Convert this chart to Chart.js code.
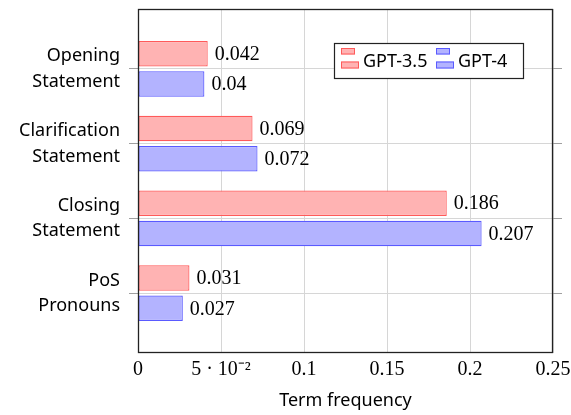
<!DOCTYPE html>
<html>
<head>
<meta charset="utf-8">
<script src="https://cdn.jsdelivr.net/npm/chart.js@4.4.1/dist/chart.umd.min.js"></script>
<style>
  html, body { margin: 0; padding: 0; background: #fff; }
  #wrap { width: 571px; height: 415px; position: relative; }
</style>
</head>
<body>
<div id="wrap"><canvas id="c" width="571" height="415"></canvas></div>
<script>
const categories = [["Opening", "Statement"], ["Clarification", "Statement"], ["Closing", "Statement"], ["PoS", "Pronouns"]];
const seriesNames = ["GPT-3.5", "GPT-4"];
const gpt35 = [0.042, 0.069, 0.186, 0.031];
const gpt4 = [0.04, 0.072, 0.207, 0.027];
const xTickValues = [0, 0.05, 0.1, 0.15, 0.2, 0.25];
const xTickLabels = ["0", "5 \u00b7 10\u207b\u00b2", "0.1", "0.15", "0.2", "0.25"];

const seriesValues = [gpt35, gpt4];
const fills = ["#ffb3b3", "#b3b3ff"];
const borders = ["#ff5a5a", "#5a5aff"];
const SANS = '"Noto Sans", sans-serif';
const SERIF = '"Liberation Serif", serif';

const valueLabels = {
  id: 'valueLabels',
  afterDatasetsDraw(chart) {
    const ctx = chart.ctx;
    ctx.save();
    ctx.font = '20px ' + SERIF;
    ctx.fillStyle = '#000';
    ctx.textBaseline = 'middle';
    ctx.textAlign = 'left';
    chart.data.datasets.forEach((ds, di) => {
      const meta = chart.getDatasetMeta(di);
      meta.data.forEach((bar, i) => {
        ctx.fillText(String(seriesValues[di][i]), bar.x + 7, bar.y + 1);
      });
    });
    ctx.restore();
  }
};

const frameAndLegend = {
  id: 'frameAndLegend',
  afterDraw(chart) {
    const ctx = chart.ctx;
    const a = chart.chartArea;
    ctx.save();
    ctx.strokeStyle = '#222';
    ctx.lineWidth = 1.3;
    ctx.strokeRect(Math.round(a.left) + 0.5, Math.round(a.top) + 0.5, Math.round(a.right - a.left) - 1, Math.round(a.bottom - a.top) - 1);

    // legend
    const lx = a.left + 196, ly = a.top + 34, lw = 189, lh = 35;
    ctx.fillStyle = '#fff';
    ctx.fillRect(lx, ly, lw, lh);
    ctx.strokeStyle = '#222';
    ctx.lineWidth = 1.2;
    ctx.strokeRect(lx + 0.5, ly + 0.5, lw, lh);
    const entries = [{x: lx + 7, tx: lx + 29}, {x: lx + 102, tx: lx + 124}];
    entries.forEach((e, i) => {
      ctx.fillStyle = fills[i];
      ctx.strokeStyle = borders[i];
      ctx.lineWidth = 1;
      ctx.fillRect(e.x, ly + 5, 14, 6.5);
      ctx.strokeRect(e.x + 0.5, ly + 5.5, 13, 5.5);
      ctx.fillRect(e.x, ly + 18.5, 18, 7);
      ctx.strokeRect(e.x + 0.5, ly + 19, 17, 6);
      ctx.fillStyle = '#000';
      ctx.font = '18px ' + SANS;
      ctx.textBaseline = 'alphabetic';
      ctx.textAlign = 'left';
      ctx.fillText(seriesNames[i], e.tx, ly + 23.5);
    });
    ctx.restore();
  }
};

const datasets = seriesValues.map((vals, di) => ({
  label: seriesNames[di],
  data: vals.map((v, i) => ({x: v, y: i})),
  backgroundColor: fills[di],
  borderColor: borders[di],
  borderWidth: 1.2,
  borderSkipped: false,
  categoryPercentage: 0.81,
  barPercentage: 0.84
}));

new Chart(document.getElementById('c'), {
  type: 'bar',
  data: { datasets },
  plugins: [valueLabels, frameAndLegend],
  options: {
    responsive: false,
    animation: false,
    indexAxis: 'y',
    layout: { padding: { top: 9, left: 0, right: 0, bottom: 0 } },
    plugins: { legend: { display: false }, tooltip: { enabled: false } },
    scales: {
      x: {
        type: 'linear',
        position: 'bottom',
        min: 0,
        max: 0.25,
        afterBuildTicks(axis) { axis.ticks = xTickValues.map(v => ({value: v})); },
        afterFit(s) { s.height = 62; s.paddingLeft = 0; s.paddingRight = 0; },
        ticks: {
          font: { family: SERIF, size: 20 },
          color: '#000',
          padding: 5,
          maxRotation: 0,
          autoSkip: false,
          callback(v) { const i = xTickValues.indexOf(v); return i >= 0 ? xTickLabels[i] : ''; }
        },
        grid: { color: '#d6d6d6', drawTicks: false, lineWidth: 1 },
        border: { display: false },
        title: { display: true, text: 'Term frequency', font: { family: SANS, size: 18 }, color: '#000', padding: { top: 0, bottom: 3 } }
      },
      y: {
        type: 'linear',
        position: 'left',
        reverse: true,
        min: -0.8,
        max: 3.8,
        offset: false,
        afterBuildTicks(axis) { axis.ticks = categories.map((_, i) => ({value: i})); },
        afterFit(s) { s.width = 138; s.paddingTop = 0; s.paddingBottom = 0; },
        ticks: {
          font: { family: SANS, size: 18, lineHeight: 1.42 },
          color: '#000',
          padding: 9,
          autoSkip: false,
          callback(v) { return categories[v] || ''; }
        },
        grid: { color: '#d6d6d6', tickColor: '#a0a0a0', tickLength: 9, offset: false, lineWidth: 1 },
        border: { display: false }
      },
      y2: {
        type: 'linear',
        position: 'right',
        reverse: true,
        min: -0.8,
        max: 3.8,
        offset: false,
        afterBuildTicks(axis) { axis.ticks = categories.map((_, i) => ({value: i})); },
        afterFit(s) { s.width = 18; s.paddingTop = 0; s.paddingBottom = 0; },
        ticks: { display: false },
        grid: { drawOnChartArea: false, tickColor: '#a0a0a0', tickLength: 9, offset: false },
        border: { display: false }
      }
    }
  }
});
</script>
</body>
</html>
